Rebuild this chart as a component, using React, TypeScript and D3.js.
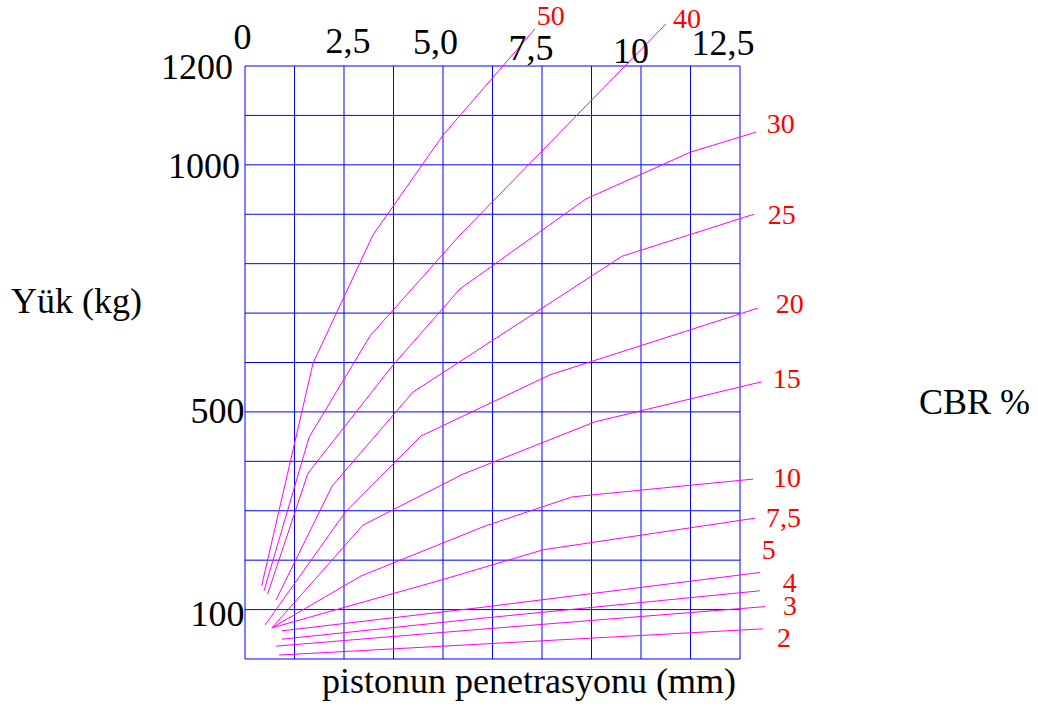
import React from "react";
import * as d3 from "d3";

// ---- data ----
const xTickValues = [0, 2.5, 5, 7.5, 10, 12.5];
const xTickLabels = ["0", "2,5", "5,0", "7,5", "10", "12,5"];
const yTickValues = [100, 500, 1000, 1200];
const yTickLabels = ["100", "500", "1000", "1200"];

const cbrLabels = ["50", "40", "30", "25", "20", "15", "10", "7,5", "5", "4", "3", "2"];

// [penetration mm, load kg]
const cbr50 = [[0.42, 148], [1.72, 599], [3.23, 858], [5.0, 1060], [7.32, 1275]];
const cbr40 = [[0.48, 138], [1.62, 449], [3.16, 654], [5.43, 858], [10.63, 1285]];
const cbr30 = [[0.57, 131], [1.59, 376], [3.74, 595], [5.43, 749], [8.61, 931], [11.26, 1026], [12.9, 1066]];
const cbr25 = [[0.78, 119], [2.2, 350], [4.24, 540], [9.52, 815], [12.85, 900]];
const cbr20 = [[0.51, 69], [2.53, 297], [4.44, 451], [7.7, 575], [12.95, 710]];
const cbr15 = [[0.68, 63], [2.98, 271], [5.5, 374], [8.84, 480], [13.05, 561]];
const cbr10 = [[0.68, 63], [2.93, 168], [6.06, 269], [8.26, 328], [12.83, 364]];
const cbr7_5 = [[0.68, 63], [5.05, 162], [7.53, 221], [12.88, 285]];
const cbr5 = [[0.93, 57], [5.93, 104], [13.0, 175]];
const cbr4 = [[0.93, 40], [5.93, 82], [13.0, 138]];
const cbr3 = [[0.78, 26], [5.93, 60], [13.13, 106]];
const cbr2 = [[0.86, 8], [5.93, 30], [13.08, 61]];

const curves = [cbr50, cbr40, cbr30, cbr25, cbr20, cbr15, cbr10, cbr7_5, cbr5, cbr4, cbr3, cbr2];

// ---- layout (pixel nudges, not data) ----
const W = 1038;
const H = 714;
const plot = { left: 245, right: 740, top: 66, bottom: 659 };
const xTickNudge = [[-2.5, -17], [4, -13], [-7.5, -12], [-11, -6], [-10, -3], [-17, -11]];
const yTickNudge = [[-0.5, 16], [-0.5, 11], [-5, 13], [-12, 13]];
const labelNudge = [
  [2, -4], [7, 4], [11, 1], [14, 10], [18, 5], [11, 6],
  [20, 8], [11, 9], [2, -14], [23, 1], [18, 8], [14, 18],
];

export default function App() {
  const x = d3.scaleLinear().domain([0, 12.5]).range([plot.left, plot.right]);
  const y = d3.scaleLinear().domain([0, 1200]).range([plot.bottom, plot.top]);
  const line = d3
    .line<number[]>()
    .x((d) => x(d[0]))
    .y((d) => y(d[1]));

  const vGrid = d3.range(0, 12.5 + 0.001, 1.25);
  const hGrid = d3.range(0, 1200 + 0.001, 100);
  const font = "'Liberation Serif', 'Times New Roman', serif";

  return (
    <svg
      width={W}
      height={H}
      style={{ position: "absolute", left: 0, top: 0, display: "block", background: "#fff" }}
      fontFamily={font}
    >
      <g stroke="#0000ff" strokeWidth={1}>
        {vGrid.map((v, i) => (
          <line key={"v" + i} x1={x(v)} x2={x(v)} y1={plot.top} y2={plot.bottom} />
        ))}
        {hGrid.map((v, i) => (
          <line key={"h" + i} x1={plot.left} x2={plot.right} y1={y(v)} y2={y(v)} />
        ))}
      </g>

      <g fill="none" stroke="#ff00ff" strokeWidth={1}>
        {curves.map((c, i) => (
          <path key={"c" + i} d={line(c as number[][]) || ""} />
        ))}
      </g>

      <g fill="#ff0000" fontSize={28}>
        {curves.map((c, i) => {
          const end = c[c.length - 1];
          return (
            <text key={"l" + i} x={x(end[0]) + labelNudge[i][0]} y={y(end[1]) + labelNudge[i][1]}>
              {cbrLabels[i]}
            </text>
          );
        })}
      </g>

      <g fill="#000" fontSize={36}>
        {xTickValues.map((v, i) => (
          <text
            key={"xt" + i}
            x={x(v) + xTickNudge[i][0]}
            y={plot.top + xTickNudge[i][1]}
            textAnchor="middle"
          >
            {xTickLabels[i]}
          </text>
        ))}
        {yTickValues.map((v, i) => (
          <text
            key={"yt" + i}
            x={plot.left + yTickNudge[i][0]}
            y={y(v) + yTickNudge[i][1]}
            textAnchor="end"
          >
            {yTickLabels[i]}
          </text>
        ))}
        <text x={11} y={313}>Yük (kg)</text>
        <text x={322} y={693}>pistonun penetrasyonu (mm)</text>
        <text x={919} y={414}>CBR %</text>
      </g>
    </svg>
  );
}
